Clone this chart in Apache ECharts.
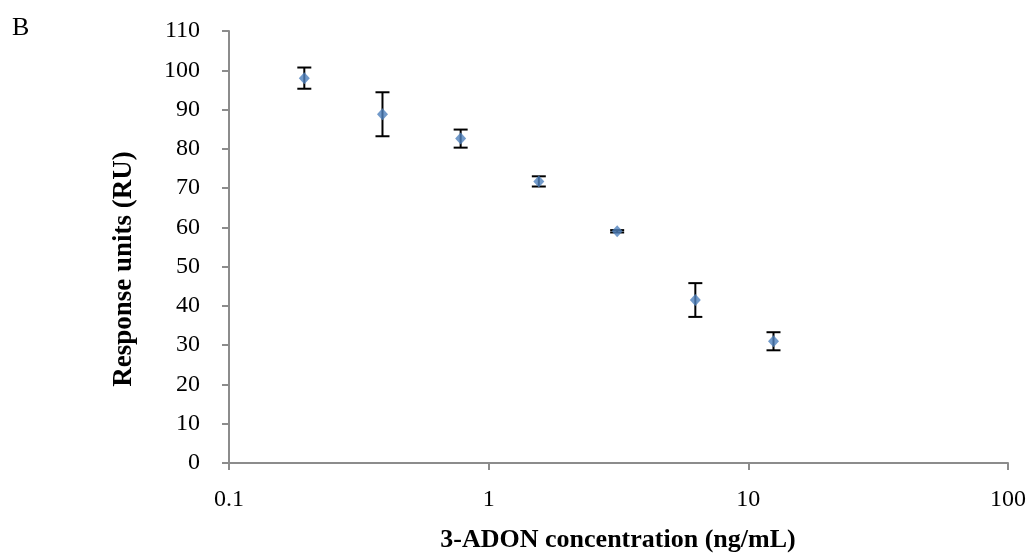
<!DOCTYPE html>
<html>
<head>
<meta charset="utf-8">
<script src="https://cdn.jsdelivr.net/npm/echarts@6/dist/echarts.min.js"></script>
<style>
  html, body { margin: 0; padding: 0; background: #fff; }
  #chart { width: 1034px; height: 553px; }
</style>
</head>
<body>
<div id="chart"></div>
<script>
// 3-ADON concentrations (ng/mL), two-fold dilution series
const concentrations = [0.195, 0.39, 0.78, 1.56, 3.125, 6.25, 12.5];
// Mean response units (RU)
const responseMeans = [98.0, 88.8, 82.6, 71.7, 59.0, 41.5, 31.0];
// Standard deviation for each mean
const responseErrors = [2.7, 5.6, 2.3, 1.3, 0.3, 4.3, 2.3];
// Tick values shown on the log axis
const xTickLabels = [0.1, 1, 10, 100];

const pointData = concentrations.map((c, i) => [c, responseMeans[i]]);
const errorData = concentrations.map((c, i) => [c, responseMeans[i] - responseErrors[i], responseMeans[i] + responseErrors[i]]);

const font = '"Liberation Serif", "Times New Roman", serif';
const axisGray = '#8c8c8c';

const chart = echarts.init(document.getElementById('chart'), null, { renderer: 'canvas' });

chart.setOption({
  backgroundColor: '#ffffff',
  animation: false,
  textStyle: { fontFamily: font },
  graphic: [
    {
      type: 'text', left: 12, top: 15,
      style: { text: 'B', font: '26px ' + font, fill: '#000' }
    },
    {
      // y-axis title
      type: 'text', x: 124, y: 269, rotation: Math.PI / 2,
      style: {
        text: 'Response units (RU)',
        font: 'bold 27px ' + font,
        fill: '#000',
        textAlign: 'center',
        textVerticalAlign: 'middle'
      }
    },
    {
      // x-axis title
      type: 'text', x: 618, y: 540,
      style: {
        text: '3-ADON concentration (ng/mL)',
        font: 'bold 26px ' + font,
        fill: '#000',
        textAlign: 'center',
        textVerticalAlign: 'middle'
      }
    }
  ],
  grid: { left: 229, right: 26, top: 31, bottom: 90 },
  xAxis: {
    type: 'log',
    logBase: 10,
    min: 0.1,
    max: 100,
    axisLine: { lineStyle: { color: axisGray, width: 2 } },
    axisTick: { show: true, length: 7, lineStyle: { color: axisGray, width: 2 } },
    axisLabel: {
      margin: 25, fontFamily: font, fontSize: 24, color: '#000',
      formatter: v => {
        const hit = xTickLabels.find(t => Math.abs(t - v) / t < 1e-6);
        return hit !== undefined ? String(hit) : '';
      }
    },
    splitLine: { show: false },
    minorTick: { show: false }
  },
  yAxis: {
    type: 'value',
    min: 0,
    max: 110,
    interval: 10,
    axisLine: { show: true, lineStyle: { color: axisGray, width: 2 } },
    axisTick: { show: true, length: 7, lineStyle: { color: axisGray, width: 2 } },
    axisLabel: { margin: 29, fontFamily: font, fontSize: 24, color: '#000' },
    splitLine: { show: false }
  },
  series: [
    {
      type: 'custom',
      name: 'error',
      data: errorData,
      z: 2,
      renderItem: (params, api) => {
        const x = api.value(0);
        const lo = api.coord([x, api.value(1)]);
        const hi = api.coord([x, api.value(2)]);
        const cap = 7;
        const style = { stroke: '#000', lineWidth: 2 };
        return {
          type: 'group',
          children: [
            { type: 'line', shape: { x1: lo[0], y1: lo[1], x2: hi[0], y2: hi[1] }, style },
            { type: 'line', shape: { x1: lo[0] - cap, y1: lo[1], x2: lo[0] + cap, y2: lo[1] }, style },
            { type: 'line', shape: { x1: hi[0] - cap, y1: hi[1], x2: hi[0] + cap, y2: hi[1] }, style }
          ]
        };
      }
    },
    {
      type: 'scatter',
      name: 'response',
      data: pointData,
      symbol: 'diamond',
      symbolSize: [11, 12],
      itemStyle: { color: '#4f81bd' },
      z: 3
    }
  ]
});
</script>
</body>
</html>
